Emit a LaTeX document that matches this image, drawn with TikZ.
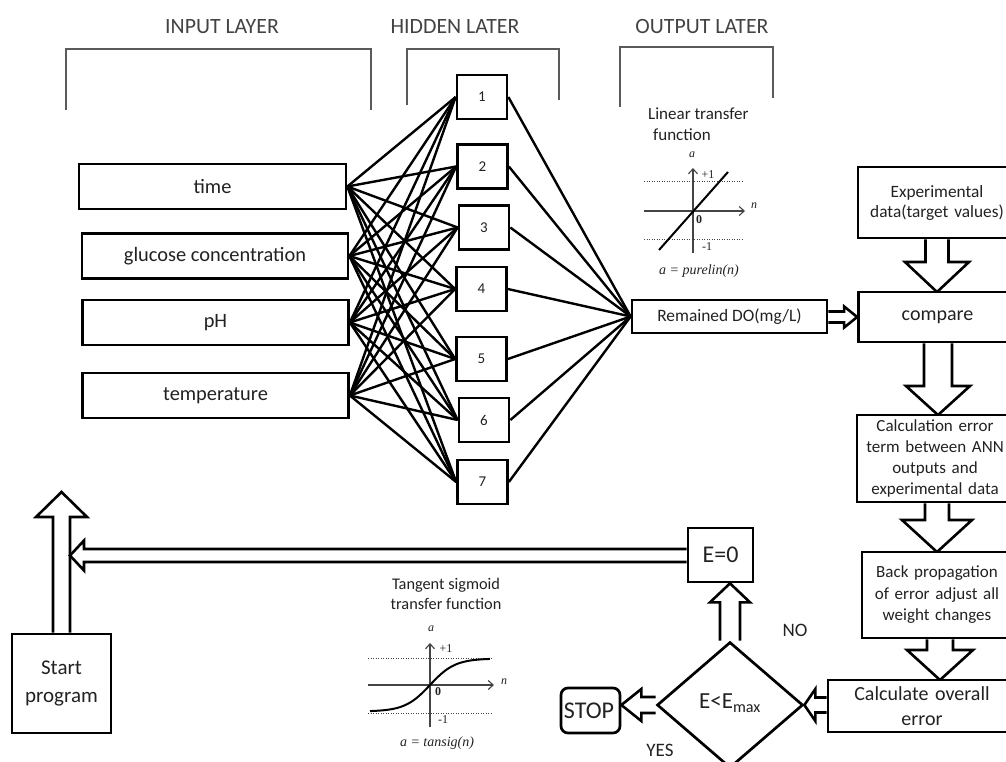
\documentclass[tikz,border=0pt]{standalone}
\usepackage{fontspec}
\setmainfont{Carlito}
\newfontfamily\tms{Liberation Serif}
\usetikzlibrary{shapes.geometric,calc,backgrounds,arrows.meta}
\newcommand\fs[2]{\fontsize{#1}{#2}\selectfont}
\definecolor{txt}{HTML}{222222}
\definecolor{brk}{HTML}{5A5A5A}
\definecolor{axc}{HTML}{444444}
% hollow block arrows: #1 source, #2 tip, #3 shaft half width, #4 head half width, #5 head length
\newcommand\blkdown[5]{\draw[blk] let \p1=(#1), \p2=(#2) in (\x2-#3pt,\y1) -- (\x2-#3pt,\y2+#5pt) -- (\x2-#4pt,\y2+#5pt) -- (\x2,\y2) -- (\x2+#4pt,\y2+#5pt) -- (\x2+#3pt,\y2+#5pt) -- (\x2+#3pt,\y1);}
\newcommand\blkup[5]{\draw[blk] let \p1=(#1), \p2=(#2) in (\x2-#3pt,\y1) -- (\x2-#3pt,\y2-#5pt) -- (\x2-#4pt,\y2-#5pt) -- (\x2,\y2) -- (\x2+#4pt,\y2-#5pt) -- (\x2+#3pt,\y2-#5pt) -- (\x2+#3pt,\y1);}
\newcommand\blkleft[5]{\draw[blk] let \p1=(#1), \p2=(#2) in (\x1,\y2+#3pt) -- (\x2+#5pt,\y2+#3pt) -- (\x2+#5pt,\y2+#4pt) -- (\x2,\y2) -- (\x2+#5pt,\y2-#4pt) -- (\x2+#5pt,\y2-#3pt) -- (\x1,\y2-#3pt);}
\newcommand\blkright[5]{\draw[blk] let \p1=(#1), \p2=(#2) in (\x1,\y2+#3pt) -- (\x2-#5pt,\y2+#3pt) -- (\x2-#5pt,\y2+#4pt) -- (\x2,\y2) -- (\x2-#5pt,\y2-#4pt) -- (\x2-#5pt,\y2-#3pt) -- (\x1,\y2-#3pt);}
\begin{document}
\begin{tikzpicture}[x=1pt,y=-1pt,
  box/.style={draw, line width=2.7pt, fill=white, inner sep=0pt, align=center, text=txt},
  inbox/.style={box, minimum width=266pt, minimum height=45pt, font=\fs{20.4}{24}},
  hid/.style={box, minimum width=50pt, minimum height=44pt, font=\fs{15}{18}},
  ttl/.style={text=txt!85, inner sep=0pt, font=\fs{21.8}{26}},
  lbl/.style={text=txt, inner sep=0pt},
  bracket/.style={draw=brk, line width=1.3pt},
  net/.style={line width=2.4pt},
  blk/.style={draw, line width=2.6pt, line join=miter},
  gtitle/.style={text=txt, inner sep=0pt, font=\fs{16}{20.5}},
  gl/.style={text=txt, inner sep=0pt, font=\tms\fs{12}{14}},
  gf/.style={text=txt, inner sep=0pt, font=\tms\itshape\fs{14}{16}},
  dots/.style={draw=axc, line width=1pt, dash pattern=on 1.2pt off 1.3pt},
  ax/.style={draw=axc, line width=1.1pt, -{Straight Barb[length=5pt,width=9pt]}}
]
\useasboundingbox (0,0) rectangle (1006,762);
\begin{pgfonlayer}{background}
\fill[white] (0,0) rectangle (1006,762);
\end{pgfonlayer}

% titles and brackets
\node[ttl] (tIn) at (222,27) {INPUT LAYER};
\node[ttl] (tHid) at (455,27) {HIDDEN LATER};
\node[ttl] (tOut) at (702,27) {OUTPUT LATER};
\draw[bracket] (66,110) -- (66,49) -- (371,49) -- (371,110);
\draw[bracket] (407,105) -- (407,49) -- (559,49) -- (559,100);
\draw[bracket] (620,107) -- (620,47) -- (773,47) -- (773,98);

% input layer
\node[inbox, minimum width=267pt] (tm) at (212.5,186.5) {time};
\node[inbox] (gl) at (215,256) {glucose concentration};
\node[inbox] (ph) at (215.5,322.5) {pH};
\node[inbox] (tp) at (215.5,395.5) {temperature};

% hidden layer
\node[hid] (h1) at (482,97) {1};
\node[hid] (h2) at (482.5,166.5) {2};
\node[hid] (h3) at (484,227.5) {3};
\node[hid] (h4) at (481.5,289) {4};
\node[hid] (h5) at (481.5,359) {5};
\node[hid] (h6) at (484,420) {6};
\node[hid] (h7) at (482.5,482) {7};

% output
\node[box, minimum width=195pt, minimum height=33pt, font=\fs{17.4}{20}] (out) at (729.5,316.5) {Remained DO(mg/L)};

\foreach \i in {tm,gl,ph,tp}{
  \foreach \j in {1,...,7}{
    \draw[net] (\i.east) -- (h\j.west);
  }
}
\foreach \j in {1,...,7}{
  \draw[net] (h\j.east) -- (out.west);
}

% right column (boxes run past the right edge of the picture)
\node[box, minimum width=180pt, minimum height=71pt, font=\fs{17.3}{20}, text width=158pt] (exp) at (948,202.5) {\hspace*{-22pt}Experimental\\\hspace*{-22pt}data(target values)};
\node[box, minimum width=180pt, minimum height=50pt, font=\fs{20}{24}, text width=158pt] (cmp) at (948.5,317) {\hspace*{-22pt}compare};
\node[box, minimum width=182pt, minimum height=87pt, font=\fs{17}{21}, text width=160pt] (calc) at (948,458.5) {\hspace*{-26pt}Calculation error\\\hspace*{-26pt}term between ANN\\\hspace*{-26pt}outputs and\\\hspace*{-26pt}experimental data};
\node[box, minimum width=170pt, minimum height=86pt, font=\fs{17}{21.5}, text width=150pt] (bp) at (947,595) {\hspace*{-20pt}Back propagation\\\hspace*{-20pt}of error adjust all\\\hspace*{-20pt}weight changes};
\node[box, minimum width=200pt, minimum height=52pt, font=\fs{20}{25}, text width=188pt] (co) at (928,706) {\hspace*{-12pt}Calculate overall\\\hspace*{-12pt}error};

% decision part
\node[box, minimum width=65pt, minimum height=54pt, font=\fs{24}{28}] (e0) at (720.5,555) {E=0};
\node[diamond, draw, line width=2.7pt, fill=white, minimum width=146pt, minimum height=126pt, inner sep=0pt, text=txt, font=\fs{23}{27}] (dia) at (730,705) {\raisebox{7pt}{E<E\textsubscript{max}}};
\node[box, rounded corners=7pt, minimum width=59pt, minimum height=45pt, font=\fs{24}{27}] (stop) at (590.5,710.5) {\hspace*{-3pt}STOP};
\node[box, minimum width=99pt, minimum height=99pt, font=\fs{21}{28}] (start) at (61.5,683.5) {Start\\program};
\node[lbl, font=\fs{19}{22}] (no) at (795,630) {NO};
\node[lbl, font=\fs{19}{22}] (yes) at (660,750) {YES};
\coordinate (stTip) at (61.5,492);
\coordinate (backTip) at (70,555.5);
\coordinate (expTip) at (937,292);
\coordinate (cmpTip) at (938,415);
\coordinate (calcTip) at (937,552);
\coordinate (bpTip) at (940,680);

\begin{pgfonlayer}{background}
\blkright{out.east}{cmp.west}{5.5}{10.5}{13}
\blkdown{exp.south}{expTip}{11.5}{32}{30}
\blkdown{cmp.south}{cmpTip}{14}{32}{29}
\blkdown{calc.south}{calcTip}{12}{35}{32}
\blkdown{bp.south}{bpTip}{13}{33}{30}
\blkleft{co.west}{dia.east}{7.5}{16}{11}
\blkleft{dia.west}{stop.east |- dia.west}{8}{16}{20}
\blkup{dia.north}{dia.north |- e0.south}{10}{20}{19}
\blkleft{e0.west}{backTip}{6.5}{15}{14}
\blkup{start.north}{stTip}{8.5}{25.5}{25}
\end{pgfonlayer}

% linear transfer function graph
\node[gtitle, font=\fs{17}{21}, align=left, anchor=west] (linT) at (648,124) {Linear transfer\\\hspace*{5pt}function};
\draw[dots] (644,182) -- (743,182);
\draw[dots] (644,239) -- (743,239);
\draw[ax] (644,211) -- (745,211);
\draw[ax] (693,253) -- (693,168);
\draw[line width=2pt] (659,250) -- (728,172);
\node[gl] (linA) at (692,155) {\itshape a};
\node[gl] (linP) at (708,175) {+1};
\node[gl] (linZ) at (699,220) {\bfseries 0};
\node[gl] (linM) at (707,247) {-1};
\node[gl] (linN) at (754,206) {\itshape n};
\node[gf] (linF) at (699,271) {a = purelin(n)};

% tangent sigmoid graph
\node[gtitle, font=\fs{16.3}{20.5}, align=center] (sigT) at (446,594) {Tangent sigmoid\\transfer function};
\draw[dots] (368,658) -- (491,658);
\draw[dots] (368,713) -- (491,713);
\draw[ax] (368,685) -- (494,685);
\draw[ax] (430,727) -- (430,643);
\draw[line width=2pt, domain=-1:1, samples=50, smooth] plot ({430+60*\x},{685-26.5*tanh(2.4*\x)});
\node[gl] (sigA) at (431,629) {\itshape a};
\node[gl] (sigP) at (446,649) {+1};
\node[gl] (sigZ) at (438,692) {\bfseries 0};
\node[gl] (sigM) at (443,720) {-1};
\node[gl] (sigN) at (504,682) {\itshape n};
\node[gf] (sigF) at (437,743) {a = tansig(n)};
\end{tikzpicture}
\end{document}
